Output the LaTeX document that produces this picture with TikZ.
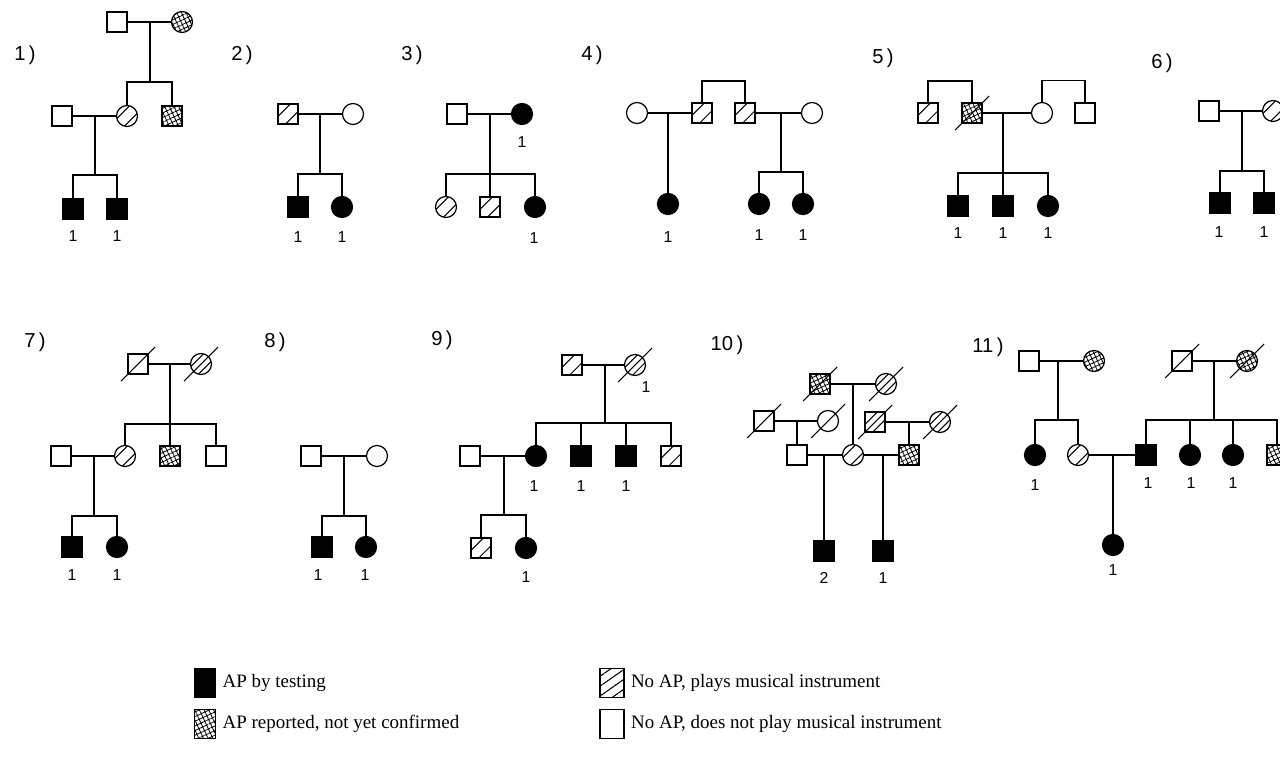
\documentclass[tikz,border=0pt]{standalone}
\usepackage{fontspec}
\setmainfont{Liberation Serif}
\newfontfamily\labelfont{Liberation Sans}
\usetikzlibrary{patterns.meta,positioning}

\tikzset{
  ind/.style={draw,line width=0.7pt,minimum size=0.4cm,inner sep=0pt,outer sep=0pt},
  male/.style={ind,rectangle},
  female/.style={ind,circle,minimum size=0.42cm},
  ap/.style={fill=black},
  rep/.style={pattern={Hatch[angle=25,distance=2.4pt,line width=0.45pt]}},
  plays/.style={path picture={\draw[line width=0.6pt,shift={(path picture bounding box.center)}]
     (-8pt,-3.6pt)--(3.6pt,8pt) (-3.6pt,-8pt)--(8pt,3.6pt);}},
  line/.style={line width=0.7pt},
  slash/.style={line width=0.6pt},
  num/.style={font=\labelfont\fontsize{9}{10}\selectfont,inner sep=0pt},
  panel/.style={font=\labelfont\fontsize{11.5}{13}\selectfont,inner sep=0pt},
  key/.style={draw,line width=0.7pt,minimum width=0.42cm,minimum height=0.57cm,inner sep=0pt},
  keyplays/.style={minimum width=0.48cm,pattern={Lines[angle=35,distance=4.6pt,line width=0.6pt]}},
  keytext/.style={font=\fontsize{10.8}{13}\selectfont,inner sep=0pt,right=3.5pt of #1},
}

\begin{document}
\begin{tikzpicture}[x=0.02cm,y=-0.02cm]
\useasboundingbox (0,0) rectangle (1280,761);

% 1)
\node[panel] (p1) at (25,55) {1\,)};
\node[male] (a1) at (117,22) {};
\node[female,rep] (a2) at (182,22) {};
\node[male] (a3) at (62,116) {};
\node[female,plays] (a4) at (127,116) {};
\node[male,rep] (a5) at (172,116) {};
\node[male,ap] (a6) at (73,209) {};
\node[male,ap] (a7) at (117,209) {};
\coordinate (ma) at (150,22);
\coordinate (sa) at (150,82);
\coordinate (mb) at (95,116);
\coordinate (sb) at (95,175);
\draw[line] (a1) -- (a2) (ma) -- (sa) (a4) |- (sa) -| (a5);
\draw[line] (a3) -- (a4) (mb) -- (sb) (a6) |- (sb) -| (a7);
\node[num] (a6n) at (73,236) {1};
\node[num] (a7n) at (117,236) {1};

% 2)
\node[panel] (p2) at (242,55) {2\,)};
\node[male,plays] (b1) at (288,114) {};
\node[female] (b2) at (353,114) {};
\node[male,ap] (b3) at (298,207) {};
\node[female,ap] (b4) at (342,207) {};
\coordinate (mc) at (320,114);
\coordinate (sc) at (320,174);
\draw[line] (b1) -- (b2) (mc) -- (sc) (b3) |- (sc) -| (b4);
\node[num] (b3n) at (298,237) {1};
\node[num] (b4n) at (342,237) {1};

% 3)
\node[panel] (p3) at (412,55) {3\,)};
\node[male] (c1) at (457,114) {};
\node[female,ap] (c2) at (522,114) {};
\node[female,plays] (c3) at (446,207) {};
\node[male,plays] (c4) at (490,207) {};
\node[female,ap] (c5) at (535,207) {};
\coordinate (md) at (490,114);
\coordinate (sd) at (490,174);
\draw[line] (c1) -- (c2) (md) -- (c4) (c3) |- (sd) -| (c5);
\node[num] (c2n) at (522,142) {1};
\node[num] (c5n) at (534,238) {1};

% 4)
\node[panel] (p4) at (592,55) {4\,)};
\node[female] (d1) at (637,113) {};
\node[male,plays] (d2) at (702,113) {};
\node[male,plays] (d3) at (745,113) {};
\node[female] (d4) at (812,113) {};
\node[female,ap] (d5) at (668,204) {};
\node[female,ap] (d6) at (759,204) {};
\node[female,ap] (d7) at (803,204) {};
\coordinate (me) at (668,113);
\coordinate (mf) at (781,113);
\coordinate (sf) at (781,172);
\draw[line] (d2.north) -- ++(0,-22) -| (d3.north);
\draw[line] (d1) -- (d2) (me) -- (d5);
\draw[line] (d3) -- (d4) (mf) -- (sf) (d6) |- (sf) -| (d7);
\node[num] (d5n) at (668,237) {1};
\node[num] (d6n) at (759,235) {1};
\node[num] (d7n) at (803,235) {1};

% 5)
\node[panel] (p5) at (883,58) {5\,)};
\node[male,plays] (e1) at (928,113) {};
\node[male,rep] (e2) at (972,113) {};
\node[female] (e3) at (1042,113) {};
\node[male] (e4) at (1085,113) {};
\node[male,ap] (e5) at (958,206) {};
\node[male,ap] (e6) at (1003,206) {};
\node[female,ap] (e7) at (1048,206) {};
\coordinate (mg) at (1003,113);
\coordinate (sg) at (1003,173);
\draw[line] (e1.north) -- ++(0,-22) -| (e2.north);
\draw[line] (e3.north) -- ++(0,-22) -| (e4.north);
\draw[line] (e2) -- (e3) (mg) -- (e6) (e5) |- (sg) -| (e7);
\draw[slash] ([shift={(-17,17)}]e2.center) -- ([shift={(17,-17)}]e2.center);
\node[num] (e5n) at (958,233) {1};
\node[num] (e6n) at (1003,233) {1};
\node[num] (e7n) at (1048,233) {1};

% 6)
\node[panel] (p6) at (1162,63) {6\,)};
\node[male] (f1) at (1209,111) {};
\node[female,plays] (f2) at (1273,111) {};
\node[male,ap] (f3) at (1220,203) {};
\node[male,ap] (f4) at (1264,203) {};
\coordinate (mh) at (1242,111);
\coordinate (sh) at (1242,171);
\draw[line] (f1) -- (f2) (mh) -- (sh) (f3) |- (sh) -| (f4);
\node[num] (f3n) at (1219,232) {1};
\node[num] (f4n) at (1264,232) {1};

% 7)
\node[panel] (p7) at (35,342) {7\,)};
\node[male] (g1) at (138,364) {};
\node[female,plays] (g2) at (201,364) {};
\node[female,plays] (g3) at (125,456) {};
\node[male,rep] (g4) at (170,456) {};
\node[male] (g5) at (216,456) {};
\node[male] (g6) at (61,456) {};
\node[male,ap] (g7) at (72,547) {};
\node[female,ap] (g8) at (117,547) {};
\coordinate (mi) at (170,364);
\coordinate (si) at (170,424);
\coordinate (mj) at (94,456);
\coordinate (sj) at (94,516);
\draw[line] (g1) -- (g2) (mi) -- (g4) (g3) |- (si) -| (g5);
\draw[line] (g6) -- (g3) (mj) -- (sj) (g7) |- (sj) -| (g8);
\draw[slash] ([shift={(-17,17)}]g1.center) -- ([shift={(17,-17)}]g1.center);
\draw[slash] ([shift={(-17,17)}]g2.center) -- ([shift={(17,-17)}]g2.center);
\node[num] (g7n) at (72,575) {1};
\node[num] (g8n) at (117,575) {1};

% 8)
\node[panel] (p8) at (275,342) {8\,)};
\node[male] (h1) at (311,456) {};
\node[female] (h2) at (377,456) {};
\node[male,ap] (h3) at (322,547) {};
\node[female,ap] (h4) at (366,547) {};
\coordinate (mk) at (344,456);
\coordinate (sk) at (344,516);
\draw[line] (h1) -- (h2) (mk) -- (sk) (h3) |- (sk) -| (h4);
\node[num] (h3n) at (318,575) {1};
\node[num] (h4n) at (365,575) {1};

% 9)
\node[panel] (p9) at (442,340) {9\,)};
\node[male,plays] (i1) at (572,365) {};
\node[female,plays] (i2) at (635,365) {};
\node[female,ap] (i3) at (536,456) {};
\node[male,ap] (i4) at (581,456) {};
\node[male,ap] (i5) at (626,456) {};
\node[male,plays] (i6) at (671,456) {};
\node[male] (i7) at (470,456) {};
\node[male,plays] (i8) at (481,548) {};
\node[female,ap] (i9) at (526,548) {};
\coordinate (ml) at (605,365);
\coordinate (sl) at (605,423);
\coordinate (mm) at (504,456);
\coordinate (sm) at (504,515);
\draw[line] (i1) -- (i2) (ml) -- (sl) (i3) |- (sl) -| (i6);
\draw[line] (i4) -- (i4 |- sl) (i5) -- (i5 |- sl);
\draw[line] (i7) -- (i3) (mm) -- (sm) (i8) |- (sm) -| (i9);
\draw[slash] ([shift={(-17,17)}]i2.center) -- ([shift={(17,-17)}]i2.center);
\node[num] (i2n) at (646,387) {1};
\node[num] (i3n) at (534,486) {1};
\node[num] (i4n) at (581,486) {1};
\node[num] (i5n) at (626,486) {1};
\node[num] (i9n) at (526,577) {1};

% 10)
\node[panel] (p10) at (727,345) {10\,)};
\node[male,rep] (j1) at (820,384) {};
\node[female,plays] (j2) at (886,384) {};
\node[male] (j3) at (764,421) {};
\node[female] (j4) at (828,421) {};
\node[male,plays] (j5) at (875,422) {};
\node[female,plays] (j6) at (940,422) {};
\node[male] (j7) at (797,455) {};
\node[female,plays] (j8) at (853,455) {};
\node[male,rep] (j9) at (909,455) {};
\node[male,ap] (j10) at (824,551) {};
\node[male,ap] (j11) at (883,551) {};
\coordinate (mq) at (853,384);
\coordinate (mr) at (797,421);
\coordinate (ms) at (909,422);
\coordinate (mt) at (824,455);
\coordinate (mu) at (883,455);
\draw[line] (j1) -- (j2) (mq) -- (j8);
\draw[line] (j3) -- (j4) (mr) -- (j7);
\draw[line] (j5) -- (j6) (ms) -- (j9);
\draw[line] (j7) -- (j8) (mt) -- (j10);
\draw[line] (j8) -- (j9) (mu) -- (j11);
\foreach \p in {j1,j2,j3,j4,j5,j6}
  \draw[slash] ([shift={(-17,17)}]\p.center) -- ([shift={(17,-17)}]\p.center);
\node[num] (j10n) at (824,578) {2};
\node[num] (j11n) at (883,578) {1};

% 11)
\node[panel] (p11) at (988,347) {11\,)};
\node[male] (k1) at (1029,361) {};
\node[female,rep] (k2) at (1094,361) {};
\node[female,ap] (k3) at (1035,455) {};
\node[female,plays] (k4) at (1078,455) {};
\node[male] (k5) at (1182,361) {};
\node[female,rep] (k6) at (1247,361) {};
\node[male,ap] (k7) at (1146,455) {};
\node[female,ap] (k8) at (1190,455) {};
\node[female,ap] (k9) at (1233,455) {};
\node[male,rep] (k10) at (1277,455) {};
\node[female,ap] (k11) at (1113,545) {};
\coordinate (mn) at (1058,361);
\coordinate (sn) at (1058,420);
\coordinate (mo) at (1214,361);
\coordinate (so) at (1214,420);
\coordinate (mp) at (1113,455);
\draw[line] (k1) -- (k2) (mn) -- (sn) (k3) |- (sn) -| (k4);
\draw[line] (k5) -- (k6) (mo) -- (so) (k7) |- (so) -| (k10);
\draw[line] (k8) -- (k8 |- so) (k9) -- (k9 |- so);
\draw[line] (k4) -- (k7) (mp) -- (k11);
\draw[slash] ([shift={(-17,17)}]k5.center) -- ([shift={(17,-17)}]k5.center);
\draw[slash] ([shift={(-17,17)}]k6.center) -- ([shift={(17,-17)}]k6.center);
\node[num] (k3n) at (1035,485) {1};
\node[num] (k7n) at (1148,483) {1};
\node[num] (k8n) at (1191,483) {1};
\node[num] (k9n) at (1233,483) {1};
\node[num] (k11n) at (1113,570) {1};

% key
\node[key,ap] (l1) at (205,683) {};
\node[keytext=l1] (t1) {AP by testing};
\node[key,rep] (l2) at (205,724) {};
\node[keytext=l2] (t2) {AP reported, not yet confirmed};
\node[key,keyplays] (l3) at (612,683) {};
\node[keytext=l3] (t3) {No AP, plays musical instrument};
\node[key,minimum width=0.48cm] (l4) at (612,724) {};
\node[keytext=l4] (t4) {No AP, does not play musical instrument};
\end{tikzpicture}
\end{document}
